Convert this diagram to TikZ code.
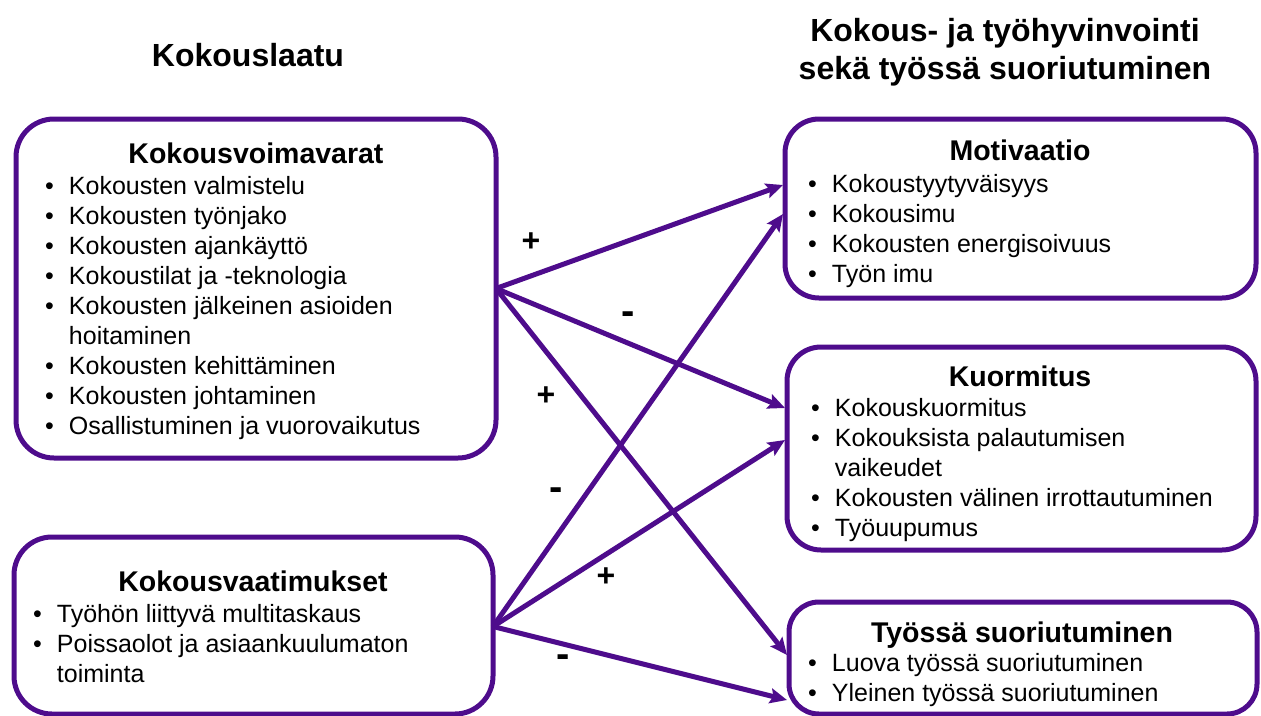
\documentclass[tikz,border=0pt]{standalone}
\usepackage{fontspec}
\setmainfont{Liberation Sans}
\usetikzlibrary{arrows.meta}
\definecolor{pur}{RGB}{78,12,140}
\newcommand{\itemfont}{\fontsize{25}{30}\selectfont}
\newcommand{\bul}{\textbullet}
\begin{document}
\begin{tikzpicture}[x=1pt,y=-1pt,
  box/.style={draw=pur, line width=5pt, rounded corners=38pt, anchor=north west, inner sep=0pt, outer sep=0pt},
  head/.style={font=\fontsize{28.5}{34}\selectfont\bfseries, anchor=base, inner sep=0pt},
  ttl/.style={font=\fontsize{32}{38}\selectfont\bfseries, anchor=base, inner sep=0pt, align=center},
  lst/.style={font=\itemfont, anchor=base west, inner sep=0pt},
  sign/.style={font=\fontsize{32}{38}\selectfont\bfseries, inner sep=0pt},
  dsign/.style={font=\fontsize{40}{44}\selectfont\bfseries, inner sep=0pt},
  arr/.style={draw=pur, line width=5pt, -{Stealth[length=17pt,width=15pt,inset=3pt]}}
]
\useasboundingbox (0,0) rectangle (1261,715);

% titles
\node[ttl] (t1) at (248,66) {Kokouslaatu};
\node[ttl] (t2a) at (1005,41) {Kokous- ja työhyvinvointi};
\node[ttl] (t2b) at (1005,79) {sekä työssä suoriutuminen};

% boxes
\node[box, minimum width=480pt, minimum height=339pt] (res) at (16,119) {};
\node[box, minimum width=479pt, minimum height=177pt] (dem) at (14,537) {};
\node[box, rounded corners=34pt, minimum width=471pt, minimum height=179pt] (mot) at (785,119) {};
\node[box, rounded corners=34pt, minimum width=469pt, minimum height=203pt] (kuo) at (787,347) {};
\node[box, rounded corners=30pt, minimum width=468pt, minimum height=112pt] (suo) at (789,602) {};

% headings
\node[head] (resh) at (256,163) {Kokousvoimavarat};
\node[head] (demh) at (253,591) {Kokousvaatimukset};
\node[head] (moth) at (1020,160) {Motivaatio};
\node[head] (kuoh) at (1020,386) {Kuormitus};
\node[head] (suoh) at (1022,642) {Työssä suoriutuminen};

% lists
\node[lst] (resl) at (45,194) {\begin{tabular}[t]{@{}l@{\hspace{15pt}}l@{}}
\bul & Kokousten valmistelu\\
\bul & Kokousten työnjako\\
\bul & Kokousten ajankäyttö\\
\bul & Kokoustilat ja -teknologia\\
\bul & Kokousten jälkeinen asioiden\\
 & hoitaminen\\
\bul & Kokousten kehittäminen\\
\bul & Kokousten johtaminen\\
\bul & Osallistuminen ja vuorovaikutus
\end{tabular}};
\node[lst] (deml) at (33,622) {\begin{tabular}[t]{@{}l@{\hspace{15pt}}l@{}}
\bul & Työhön liittyvä multitaskaus\\
\bul & Poissaolot ja asiaankuulumaton\\
 & toiminta
\end{tabular}};
\node[lst] (motl) at (808,192) {\begin{tabular}[t]{@{}l@{\hspace{15pt}}l@{}}
\bul & Kokoustyytyväisyys\\
\bul & Kokousimu\\
\bul & Kokousten energisoivuus\\
\bul & Työn imu
\end{tabular}};
\node[lst] (kuol) at (811,416) {\begin{tabular}[t]{@{}l@{\hspace{15pt}}l@{}}
\bul & Kokouskuormitus\\
\bul & Kokouksista palautumisen\\
 & vaikeudet\\
\bul & Kokousten välinen irrottautuminen\\
\bul & Työuupumus
\end{tabular}};
\node[lst] (suol) at (808,671) {\begin{tabular}[t]{@{}l@{\hspace{15pt}}l@{}}
\bul & Luova työssä suoriutuminen\\
\bul & Yleinen työssä suoriutuminen
\end{tabular}};

% arrows
\draw[arr] (res.east) -- ([xshift=-2pt,yshift=23.5pt]mot.west);
\draw[arr] (res.east) -- ([xshift=-2pt,yshift=40.5pt]kuo.west);
\draw[arr] (res.east) -- ([xshift=-2pt,yshift=3pt]suo.west);
\draw[arr] ([yshift=-1pt]dem.east) -- ([xshift=-2pt,yshift=-5.5pt]mot.west);
\draw[arr] ([yshift=-1pt]dem.east) -- ([xshift=-2pt,yshift=8.5pt]kuo.west);
\draw[arr] ([yshift=-1pt]dem.east) -- ([xshift=-2pt,yshift=-42pt]suo.west);

% signs
\node[sign] (s1) at (531,242) {+};
\node[dsign] (s2) at (628,318) {-};
\node[sign] (s3) at (546,396) {+};
\node[dsign] (s4) at (556,494) {-};
\node[sign] (s5) at (606,577) {+};
\node[dsign] (s6) at (563,661) {-};
\end{tikzpicture}
\end{document}
